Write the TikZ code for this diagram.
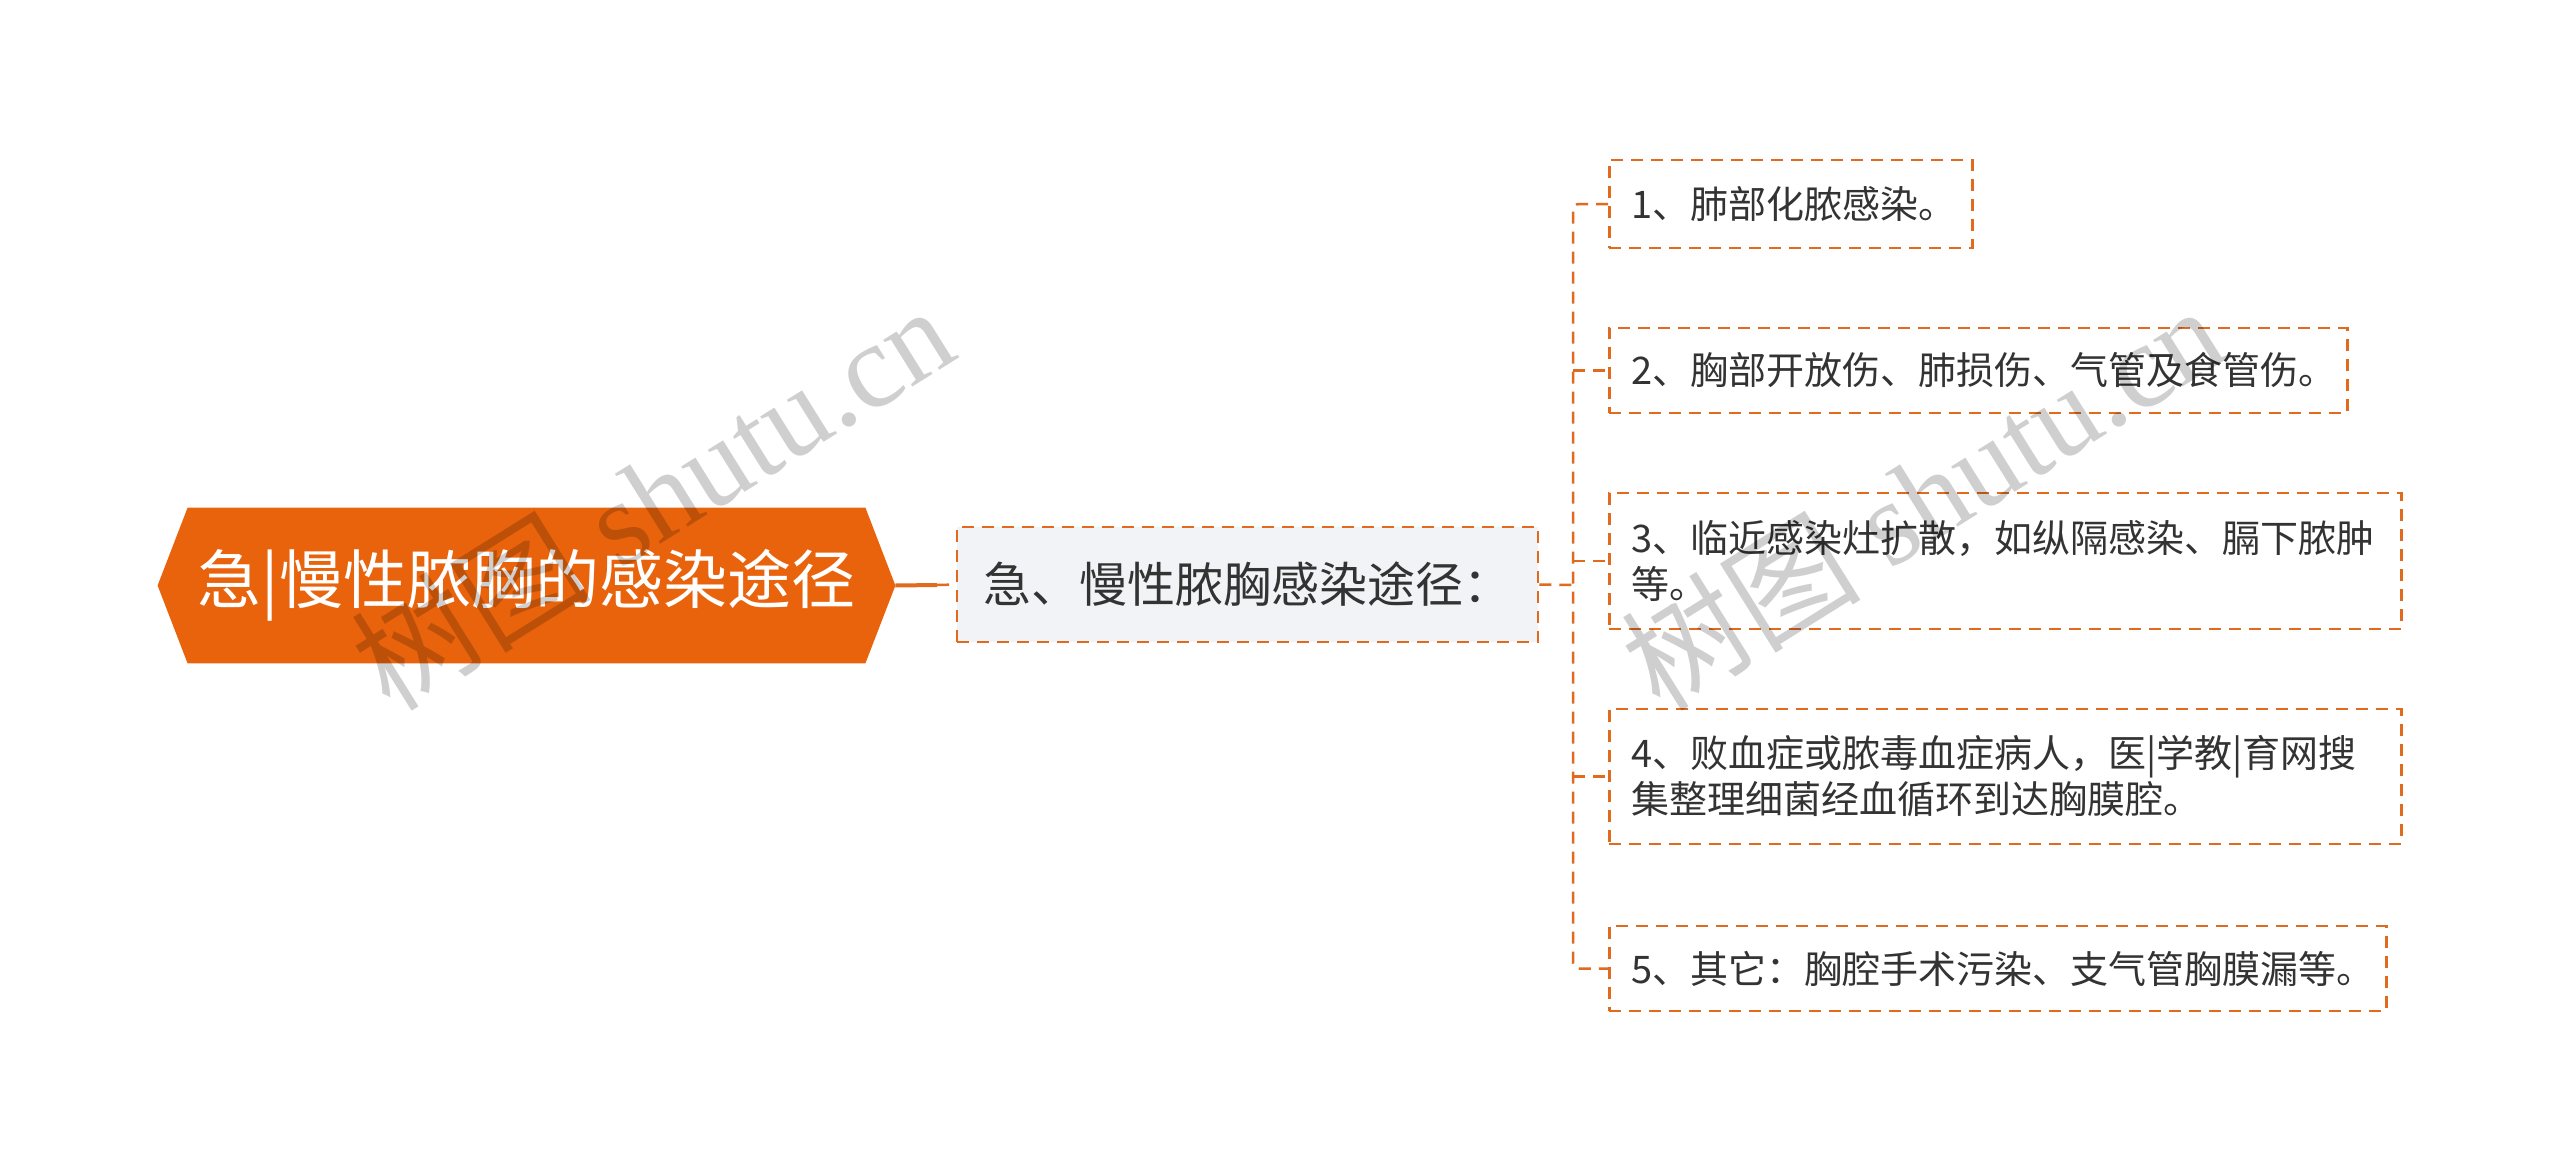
\documentclass[tikz,border=0pt]{standalone}
\usepackage{fontspec}
\setmainfont{Liberation Serif}
\newfontfamily\cjk{Noto Sans CJK SC}
\newfontfamily\wmserif{Liberation Serif}
\usetikzlibrary{backgrounds}
\definecolor{rootorange}{HTML}{E9630C}
\definecolor{lineorange}{HTML}{E06A1E}
\definecolor{subfill}{HTML}{F1F3F6}
\definecolor{textdark}{HTML}{333333}
\begin{document}
\begin{tikzpicture}[x=0.5pt,y=-0.5pt,
  conn/.style={draw=lineorange, line width=1.25pt, dash pattern=on 6pt off 4pt},
  boxdash/.style={draw=lineorange, line width=1.25pt, dash pattern=on 6pt off 4pt},
  rootbox/.style={minimum width=368.5pt, minimum height=77.5pt, inner sep=0pt, text=white, font=\cjk\fontsize{32pt}{38pt}\selectfont},
  subbox/.style={boxdash, fill=subfill, minimum width=290.5pt, minimum height=57.5pt, inner sep=0pt, text=textdark, font=\cjk\fontsize{24pt}{29pt}\selectfont},
  leaf/.style={boxdash, fill=white, anchor=west, inner xsep=11pt, inner ysep=0pt, align=left, text=textdark, font=\cjk\fontsize{19pt}{23pt}\selectfont},
  wm/.style={text=black, text opacity=0.19, anchor=base west, rotate=32, inner sep=0pt, font=\fontsize{60pt}{64pt}\selectfont},
]
\useasboundingbox (0,0) rectangle (2560,1172);

% root
\node[rootbox] (root) at (526.5,585.5) {急|慢性脓胸的感染途径};
\begin{scope}[on background layer]
\fill[rootorange] (root.west) -- ([xshift=15pt]root.north west) -- ([xshift=-15pt]root.north east) -- (root.east) -- ([xshift=-15pt]root.south east) -- ([xshift=15pt]root.south west) -- cycle;
\end{scope}

% subject
\node[subbox] (sub) at (1247.5,584.5) {急、慢性脓胸感染途径：};

% leaves
\node[leaf, text width=159.5pt, minimum height=44pt] (c1) at (1608,204) {1、肺部化脓感染。};
\node[leaf, text width=347pt, minimum height=42.5pt] (c2) at (1608,370.5) {2、胸部开放伤、肺损伤、气管及食管伤。};
\node[leaf, text width=374pt, minimum height=68pt] (c3) at (1608,561) {3、临近感染灶扩散，如纵隔感染、膈下脓肿\\等。};
\node[leaf, text width=374pt, minimum height=67.5pt] (c4) at (1608,776.5) {4、败血症或脓毒血症病人，医|学教|育网搜\\集整理细菌经血循环到达胸膜腔。};
\node[leaf, text width=366.5pt, minimum height=42.5pt] (c5) at (1608,968.5) {5、其它：胸腔手术污染、支气管胸膜漏等。};

% connectors
\coordinate (rj) at (937,585);
\coordinate (tr) at (1573,585);
\draw[lineorange, line width=2pt] (root.east) -- (rj);
\draw[conn] (rj) -- (sub.west);
\draw[conn] (sub.east) -- (tr);
\draw[conn, rounded corners=3pt] (c1.west) -| (tr) |- (c5.west);
\draw[conn] (tr |- c2.west) -- (c2.west);
\draw[conn] (tr |- c3.west) -- (c3.west);
\draw[conn] (tr |- c4.west) -- (c4.west);

% watermarks
\node[wm] (wm1) at (390,714) {{\cjk 树图}\ {\wmserif shutu.cn}};
\node[wm] (wm2) at (1660,714) {{\cjk 树图}\ {\wmserif shutu.cn}};
\end{tikzpicture}
\end{document}
